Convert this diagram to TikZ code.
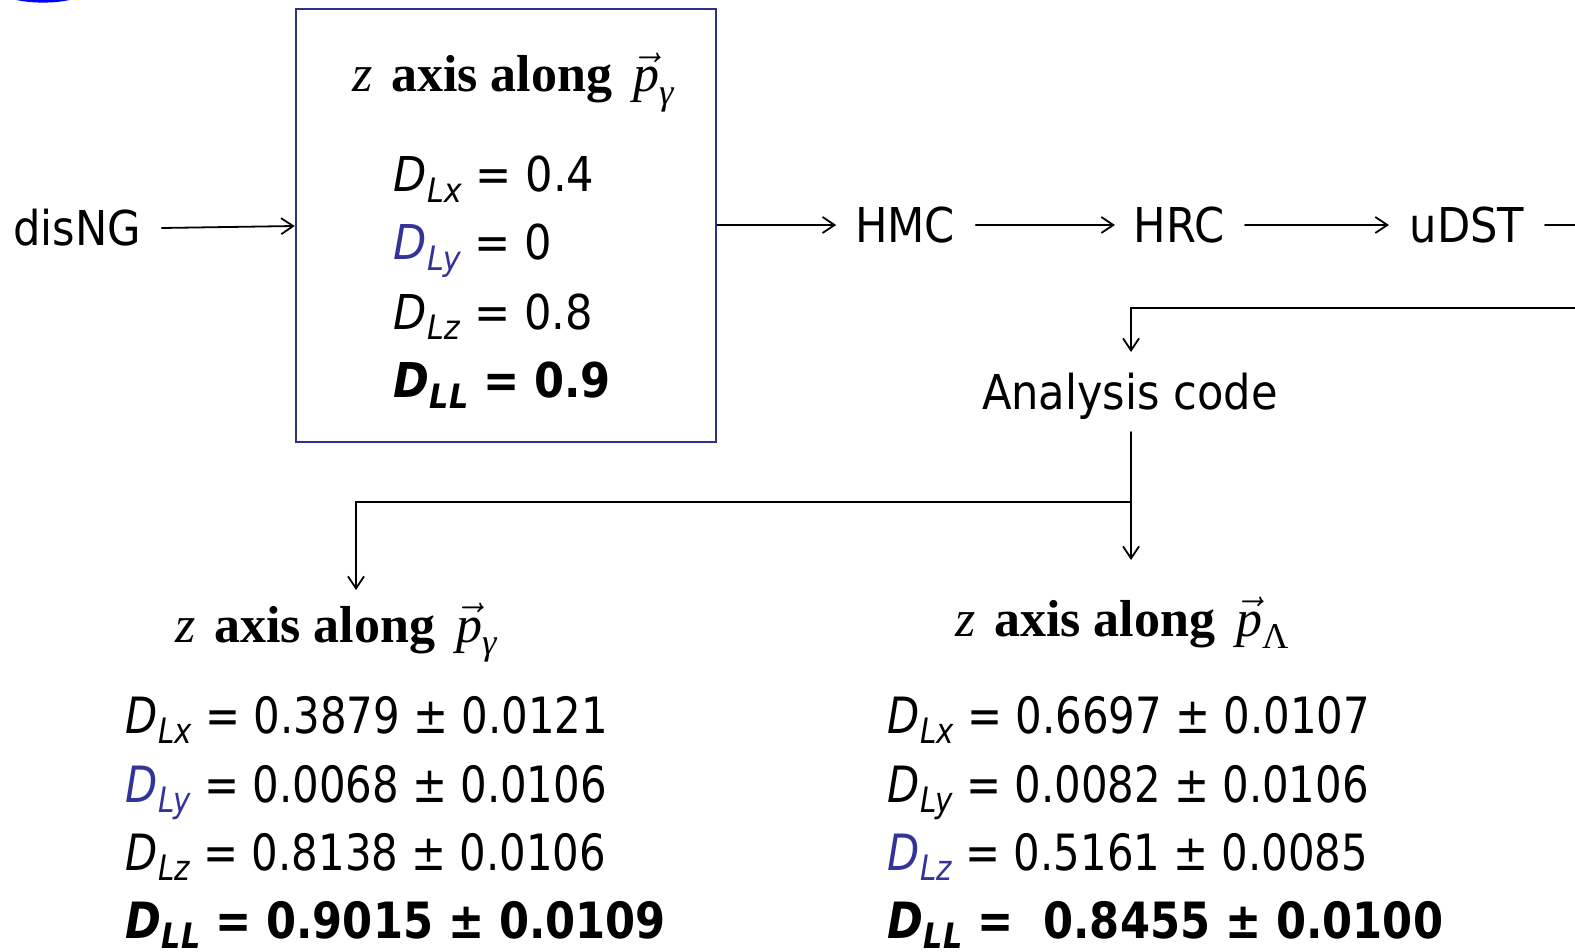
\documentclass[tikz,border=0pt]{standalone}
\usepackage{amsmath}
\usepackage{fontspec}
\setmainfont{DejaVu Sans Condensed}
\newfontfamily\numfont[FakeStretch=0.93]{DejaVu Sans Condensed}
\newfontfamily\boldnumfont[FakeStretch=0.96]{DejaVu Sans Condensed}
\newfontfamily\titlefont{Liberation Serif}
\usepackage{graphicx}
\usepackage{xcolor}
\usetikzlibrary{arrows.meta,positioning}
\definecolor{boxblue}{RGB}{46,49,140}
\definecolor{dyblue}{RGB}{51,51,153}
\newcommand{\DL}[1]{\textit{D}\raisebox{-0.21em}{\scalebox{0.7}{\textit{#1}}}}
\newcommand{\zaxis}[1]{\textit{z}\hspace{0.35em}\textbf{axis along}\hspace{0.4em}$\vec{\textit{p}}_{#1}$}

\begin{document}
\begin{tikzpicture}[x=0.5pt,y=-0.5pt,>={Straight Barb[length=6pt,width=8pt]},line width=0.9pt,line cap=round,
  stage/.style={font=\fontsize{24}{28}\selectfont,inner sep=0pt},
  eqn/.style={font=\fontsize{24}{28}\selectfont,anchor=base west,inner sep=0pt},
  res/.style={font=\numfont\fontsize{25}{30}\selectfont,anchor=base west,inner sep=0pt},
  resbold/.style={font=\boldnumfont\fontsize{25}{30}\selectfont\bfseries,anchor=base west,inner sep=0pt},
  ztitle/.style={font=\titlefont\fontsize{26}{30}\selectfont,anchor=base west,inner sep=0pt}]
\useasboundingbox (0,0) rectangle (1575,952);
\draw[blue,line width=1.6pt] (43,-14) ellipse (47 and 15);
% generator settings
\node[draw=boxblue,line width=1.2pt,minimum width=210pt,minimum height=216.5pt,inner sep=0pt] (cfg) at (506,225.5) {};
\node[ztitle] (cfgt) at (352,92) {\zaxis{\textit{γ}}};
\node[eqn] (cx) at (393,192) {\DL{Lx} = 0.4};
\node[eqn] (cy) at (393,260) {{\color{dyblue}\DL{Ly}} = 0};
\node[eqn] (cz) at (393,329) {\DL{Lz} = 0.8};
\node[eqn] (cl) at (393,398) {\textbf{\DL{LL} = 0.9}};
% chain
\node[stage] (disng) at (77,228) {disNG};
\node[stage] (hmc) at (905,225) {HMC};
\node[stage] (hrc) at (1179,225) {HRC};
\node[stage] (udst) at (1467,225) {uDST};
\node[stage] (ana) at (1130,396) {Analysis code};
\coordinate (outA) at (1575,225);
\coordinate (backB) at (1575,308);
\coordinate (fork) at (1131,502);
\coordinate (tipR) at (1131,560);
\coordinate (tipL) at (356,590);
\coordinate (tipA) at (1131,352);
\draw[->] ([xshift=10pt]disng.east) -- (cfg.west |- 0,226);
\draw[->] (cfg.east |- hmc) -- ([xshift=-9pt]hmc.west);
\draw[->] ([xshift=10pt]hmc.east) -- ([xshift=-9pt]hrc.west);
\draw[->] ([xshift=10pt]hrc.east) -- ([xshift=-10pt]udst.west);
\draw ([xshift=10pt]udst.east) -- (outA);
\draw[->] (backB) -| (tipA);
\draw[->] (1131,432) -- (tipR);
\draw[->] (fork) -| (tipL);
% results
\node[ztitle] (lt) at (175,642) {\zaxis{\textit{γ}}};
\node[ztitle] (rt) at (955,636) {\zaxis{\textup{Λ}}};
\node[res] (lx) at (125,733) {\DL{Lx} = 0.3879 ± 0.0121};
\node[res] (ly) at (125,802) {{\color{dyblue}\DL{Ly}} = 0.0068 ± 0.0106};
\node[res] (lz) at (125,870) {\DL{Lz} = 0.8138 ± 0.0106};
\node[resbold] (ll) at (125,938) {\DL{LL} = 0.9015 ± 0.0109};
\node[res] (rx) at (887,733) {\DL{Lx} = 0.6697 ± 0.0107};
\node[res] (ry) at (887,802) {\DL{Ly} = 0.0082 ± 0.0106};
\node[res] (rz) at (887,870) {{\color{dyblue}\DL{Lz}} = 0.5161 ± 0.0085};
\node[resbold] (rl) at (887,938) {\DL{LL} = \ 0.8455 ± 0.0100};
\end{tikzpicture}
\end{document}
